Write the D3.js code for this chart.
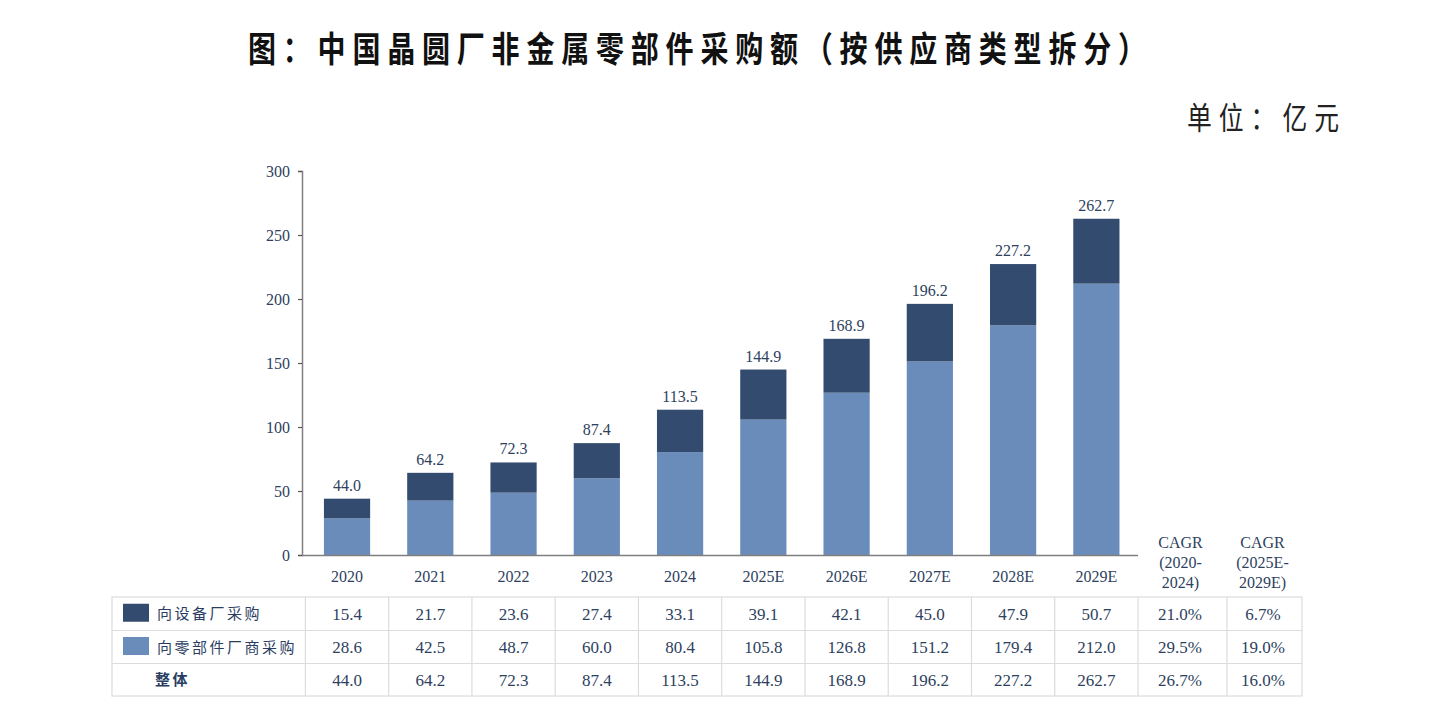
<!DOCTYPE html>
<html><head><meta charset="utf-8">
<script src="https://cdn.jsdelivr.net/npm/d3@7/dist/d3.min.js"></script>
<style>
html,body{margin:0;padding:0;background:#fff;}
svg{display:block;}
</style></head>
<body>
<svg id="chart" width="1439" height="723"></svg>
<script>
const title = "图：中国晶圆厂非金属零部件采购额（按供应商类型拆分）";
const unitLabel = "单位：亿元";
const years = ["2020","2021","2022","2023","2024","2025E","2026E","2027E","2028E","2029E"];
const equipment = [15.4,21.7,23.6,27.4,33.1,39.1,42.1,45.0,47.9,50.7];
const parts = [28.6,42.5,48.7,60.0,80.4,105.8,126.8,151.2,179.4,212.0];
const totals = [44.0,64.2,72.3,87.4,113.5,144.9,168.9,196.2,227.2,262.7];
const seriesNames = ["向设备厂采购","向零部件厂商采购","整体"];
const cagrHeaders = [["CAGR","(2020-","2024)"],["CAGR","(2025E-","2029E)"]];
const cagr1 = ["21.0%","29.5%","26.7%"];
const cagr2 = ["6.7%","19.0%","16.0%"];
const yTicks = [0,50,100,150,200,250,300];

const colDark = "#334b6e", colLight = "#6a8cbb", txt = "#2e3f60";
const serif = "'Liberation Serif','Times New Roman',serif";
const cjk = "'Noto Sans CJK SC','Noto Sans',sans-serif";

const svg = d3.select("#chart");

// title (horizontally condensed to match reference)
function condensed(str, x0, x1, baseline, size, weight, color) {
  const sx = 0.8;
  svg.append("text")
    .attr("transform", `translate(${x0},${baseline}) scale(${sx},1)`)
    .attr("x", 0).attr("y", 0)
    .attr("textLength", (x1 - x0) / sx).attr("lengthAdjust", "spacing")
    .style("font-family", cjk).style("font-size", size + "px")
    .style("font-weight", weight).style("fill", color).text(str);
}
condensed(title, 248, 1146, 62, 35, 700, "#111");
condensed(unitLabel, 1187, 1339, 129, 31, 400, "#222");

const x = d3.scaleBand().domain(years).range([305.4, 1138]).paddingInner(0.445).paddingOuter(0.2225);
const y = d3.scaleLinear().domain([0, 300]).range([555, 171]);

// bars
const g = svg.append("g");
g.selectAll(".p").data(years).join("rect")
  .attr("x", d => x(d)).attr("width", x.bandwidth())
  .attr("y", (d,i) => y(parts[i])).attr("height", (d,i) => y(0) - y(parts[i]))
  .attr("fill", colLight);
g.selectAll(".e").data(years).join("rect")
  .attr("x", d => x(d)).attr("width", x.bandwidth())
  .attr("y", (d,i) => y(parts[i] + equipment[i])).attr("height", (d,i) => y(parts[i]) - y(parts[i] + equipment[i]))
  .attr("fill", colDark);
g.selectAll(".t").data(years).join("text")
  .attr("x", d => x(d) + x.bandwidth()/2)
  .attr("y", (d,i) => y(totals[i]) - 8)
  .attr("text-anchor", "middle")
  .style("font-family", serif).style("font-size", "16px").style("fill", txt)
  .text((d,i) => totals[i].toFixed(1));

// y axis
const yAxis = svg.append("g").attr("transform", "translate(302,0)")
  .call(d3.axisLeft(y).tickValues(yTicks).tickSize(4).tickPadding(8));
yAxis.select(".domain").attr("stroke", "#7f7f7f").attr("stroke-width", 1.5);
yAxis.selectAll(".tick line").attr("stroke", "#555").attr("stroke-width", 1.2);
yAxis.selectAll(".tick text").style("font-family", serif).style("font-size", "16px").style("fill", txt);

// x axis
const xAxis = svg.append("g").attr("transform", "translate(0,555)")
  .call(d3.axisBottom(x).tickSize(0).tickPadding(16));
xAxis.select(".domain").attr("stroke", "#7f7f7f").attr("stroke-width", 1.5).attr("d", "M302,0.5H1138");
xAxis.selectAll(".tick text").style("font-family", serif).style("font-size", "16px").style("fill", txt);

// CAGR headers
const cagrCols = [[1138,1227],[1227,1302]];
cagrHeaders.forEach((lines, c) => {
  lines.forEach((l, k) => {
    svg.append("text").attr("x", (cagrCols[c][0] + cagrCols[c][1]) / 2 - 2).attr("y", 548 + k * 20)
      .attr("text-anchor", "middle")
      .style("font-family", serif).style("font-size", "16px").style("fill", txt).text(l);
  });
});

// table
const rowTops = [597, 630.5, 663.5, 696];
const tbl = svg.append("g");
const border = "#dcdcdc";
tbl.append("rect").attr("x", 112).attr("y", rowTops[0]).attr("width", 1302 - 112).attr("height", rowTops[3] - rowTops[0])
  .attr("fill", "none").attr("stroke", border).attr("stroke-width", 1.2);
[1,2].forEach(r => tbl.append("line").attr("x1", 112).attr("x2", 1302).attr("y1", rowTops[r]).attr("y2", rowTops[r])
  .attr("stroke", border).attr("stroke-width", 1.2));
const colEdges = [305.4].concat(years.map(d => x(d) - x.step()*x.paddingInner()/2 + x.step())).concat([1227]);
colEdges.forEach(cx => tbl.append("line").attr("x1", cx).attr("x2", cx).attr("y1", rowTops[0]).attr("y2", rowTops[3])
  .attr("stroke", border).attr("stroke-width", 1.2));

const rowsData = [equipment, parts, totals];
const rowCagr = [0,1,2];
rowsData.forEach((vals, r) => {
  const cy = (rowTops[r] + rowTops[r+1]) / 2 + 6;
  tbl.selectAll(null).data(years).join("text")
    .attr("x", d => x(d) + x.bandwidth()/2).attr("y", cy)
    .attr("text-anchor", "middle")
    .style("font-family", serif).style("font-size", "17px").style("fill", txt)
    .text((d,i) => vals[i].toFixed(1));
  tbl.append("text").attr("x", 1180).attr("y", cy).attr("text-anchor", "middle")
    .style("font-family", serif).style("font-size", "17px").style("fill", txt).text(cagr1[r]);
  tbl.append("text").attr("x", 1263).attr("y", cy).attr("text-anchor", "middle")
    .style("font-family", serif).style("font-size", "17px").style("fill", txt).text(cagr2[r]);
});

// legend swatches + labels
const swatchCols = [colDark, colLight];
swatchCols.forEach((c, r) => {
  const cy = (rowTops[r] + rowTops[r+1]) / 2;
  tbl.append("rect").attr("x", 123).attr("y", cy - 9 - 1).attr("width", 26).attr("height", 18).attr("fill", c);
});
seriesNames.forEach((s, r) => {
  const cy = (rowTops[r] + rowTops[r+1]) / 2;
  tbl.append("text").attr("x", r < 2 ? 157 : 155).attr("y", cy + 5.5)
    .style("font-family", cjk).style("font-size", "15px").style("letter-spacing", "2.5px")
    .style("font-weight", r === 2 ? 700 : 400)
    .style("fill", "#2a3d62").text(s);
});
</script>
</body></html>
